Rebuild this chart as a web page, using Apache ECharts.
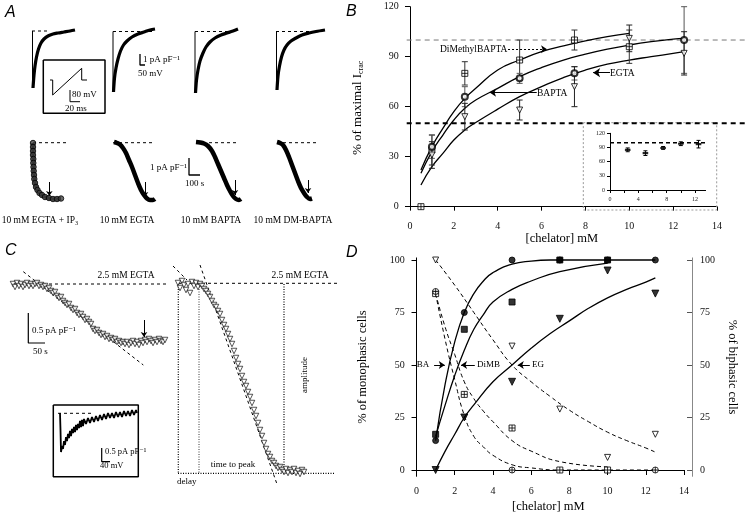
<!DOCTYPE html>
<html><head><meta charset="utf-8">
<script src="https://cdn.jsdelivr.net/npm/echarts@6/dist/echarts.min.js"></script>
<style>html,body{margin:0;padding:0;background:#fff}#c{width:750px;height:516px}</style>
</head><body><div id="c"></div><script>
const SERIF = '"Liberation Serif","DejaVu Serif",serif';
const SANS = '"Liberation Sans","DejaVu Sans",sans-serif';

// ---------- Panel B : % of maximal Icrac vs [chelator] ----------
const bTicksX = [0,2,4,6,8,10,12,14];
const bTicksY = [0,30,60,90,120];
const bFitXDM = [0.5,1,1.5,2,2.5,3,4,5,6,7,8,9,10];
const bFitDM  = [22,36,47,57,65,71,82,88,93,96.5,99.5,102,104];
const bFitX   = [0.5,1,1.5,2,2.5,3,4,5,6,7,8,9,10,11,12,12.5];
const bFitBAPTA = [20,33,43,52,59,64,71,78,83.5,88,91.5,94.5,97,99,100.5,101];
const bFitEGTA  = [13,24,32,40,46,50.5,58.5,66,72,77.5,82,85.5,88,90,92,93];
const bDMx = [0.5,1,2.5,5,7.5,10];
const bDMy = [0,34,80,88,100,96];
const bDMe = [0,9,7,12,6,10];
const bBAx = [1,2.5,5,7.5,12.5];
const bBAy = [36,66,77,80,100];
const bBAe = [7,6,3,4,20];
const bEGx = [1,2.5,5,7.5,10,12.5];
const bEGy = [31,54,58,72,101,92];
const bEGe = [8,8,6,12,8,13];
// inset
const inTicksX = [0,4,8,12];
const inMinorX = [0,2,4,6,8,10,12];
const inTicksY = [0,30,60,90,120];
const inX = [2.5,5,7.5,10,12.5];
const inY = [85,78,89,98,97];
const inE = [4,5,3,4,8];

// ---------- Panel D : % monophasic / biphasic cells ----------
const dTicksX = [0,2,4,6,8,10,12,14];
const dTicksY = [0,25,50,75,100];
const dX = [1,2.5,5,7.5,10,12.5];
const dMonoBA = [14,75,100,100,100,100];
const dMonoDMx = [1,2.5,5,7.5,10];
const dMonoDM = [17,67,80,100,100];
const dMonoEG = [0,25,42,72,95,84];
const dBiEGx = [1,5,7.5,10,12.5];
const dBiEG = [100,59,29,6,17];
const dBiDMx = [1,2.5,5,7.5,10];
const dBiDM = [84,36,20,0,0];
const dBiBAx = [1,5,12.5];
const dBiBA = [85,0,0];
const dFitBAx = [1,1.5,2,2.5,3,3.5,4,5,6,7,8,10,12.5];
const dFitBA  = [14,41,61,75,84,90,94,98,99.5,100,100,100,100];
const dFitDMx = [1,1.5,2,2.5,3,3.5,4,5,6,7.5,10];
const dFitDM  = [16,31,45,57,67,74,80,86,90,94.5,98.5];
const dFitEGx = [1,1.5,2,2.5,3,4,5,6,7,8,9,10,11,12,12.5];
const dFitEG  = [0,9,17,25,31,42,50,58,65,71,77,82,86,89.5,91.5];
const dBiFitEGx = [1,2,3,4,5,6,7,8,9,10,11,12,12.5];
const dBiFitEG  = [100,88,75,62,50,42,35,28.5,23,18,14,10.5,8.5];
const dBiFitDMx = [1,1.5,2,2.5,3,3.5,4,5,6,7.5,10];
const dBiFitDM  = [84,68,55,42,34,28,23,14,9,4,1.5];
const dBiFitBAx = [1,1.5,2,2.5,3,3.5,4,5,6,7.5,10,12.5];
const dBiFitBA  = [84,62,43,26,16,11,7,2.5,1,0,0,0];

// ---------- Panels A and C : traces (panel units) ----------
const aTop1 = [[33,88],[34,75],[35,66],[36.5,57],[38.5,49],[41,43],[44,39],[48,36],[53,34],[58,33],[64,32],[70,31],[75,30]];
const aTop2 = [[113.5,92],[114.5,78],[116,68],[118,59],[120.5,51],[123.5,45],[127,41],[132,37],[138,34],[144,32],[150,30],[155,29]];
const aTop3 = [[195.5,93],[196.5,80],[198,70],[200,61],[203,53],[206,47],[210,42],[215,38],[221,35],[227,33],[233,31],[238,29]];
const aTop4 = [[277,90],[278,76],[279.5,66],[281.5,57],[284,50],[287,45],[291,41],[296,38],[302,35],[309,33],[316,31.5],[325,30]];
const aSteps = [[[32.5,31],[32.5,88]],[[113,31.5],[113,92]],[[195,31.5],[195,93]],[[276.5,31.5],[276.5,90]]];
const aTopBase = [[[32,31],[50,31]],[[113,31.5],[153,31.5]],[[195,31.5],[237,31.5]],[[276,31.5],[320,31.5]]];
const aInsetBox = [[43.3,60],[105,60],[105,113.3],[43.3,113.3],[43.3,60]];
const aInsetWave = [[50,80],[52.7,80],[52.7,95],[81.7,68.3],[81.7,80],[87,80]];
const aInsetBar = [[70,90],[70,101.7],[80,101.7]];
const aTopBar = [[140,54],[140,65],[145,65]];
const aBot1 = [[33,143],[33,147],[33,151],[33,155],[33.3,159],[33.3,163],[33.5,167],[33.7,171],[34,175],[34.3,179],[35,183],[36,187],[37.5,190],[39.5,193],[42,195],[45,197],[49,198],[53,199],[57,199],[61,198.5]];
const aBot2 = [[114,142],[117,143],[120,144.5],[123,148],[126,153],[129,160],[132,167],[135,175],[138,183],[141,190],[144,195],[147,198.5],[150,200],[153,200],[155,199]];
const aBot3 = [[196,142],[200,142.5],[204,143.5],[208,146],[212,151],[215,157],[218,164],[221,171],[224,178],[227,185],[230,191],[233,196],[236,199],[239,200],[241,199]];
const aBot4 = [[277,142],[280,143],[283,145],[286,150],[289,157],[292,165],[295,173],[298,181],[301,188],[304,193],[307,197],[310,199],[312,198.5]];
const aBotBase = [[[33,142.7],[68,142.7]],[[113,142.7],[155,142.7]],[[197,142.7],[237,142.7]],[[277,142.7],[318,142.7]]];
const aBotBar = [[189,158],[189,175],[200,175]];
const aArrows = [[49.3,182,49.3,196],[145,182,145,197],[235,180,235,195],[308,180,308,193]];

const cLeft = [[13,284],[15,287],[17,283],[19,286],[21,284],[23,287],[25,285],[27,283],[29,286],[31,284],[33,286],[35,284],[37,283],[39,286],[41,285],[43,287],[45,286],[47,289],[49,288],[51,291],[53,293],[55,292],[57,296],[59,298],[61,297],[63,301],[65,303],[67,305],[69,304],[71,308],[73,310],[75,309],[77,313],[79,315],[81,314],[83,317],[85,320],[87,319],[89,322],[91,324],[93,329],[95,331],[97,330],[99,333],[101,335],[103,334],[105,337],[107,336],[109,339],[111,338],[113,340],[115,339],[117,342],[119,341],[121,343],[123,342],[125,344],[127,342],[129,345],[131,343],[133,341],[135,344],[137,342],[139,345],[141,341],[143,343],[145,340],[147,342],[149,339],[151,341],[153,343],[155,340],[157,342],[159,339],[161,341],[163,342],[165,340]];
const cRight = [[178,283],[180,288],[182,281],[184,285],[186,290],[188,284],[190,293],[192,282],[194,286],[196,283],[198,287],[200,284],[202,286],[204,289],[206,291],[208,294],[210,297],[212,301],[214,305],[216,307],[218,311],[220,314],[222,320],[224,325],[226,329],[228,334],[230,339],[232,344],[234,351],[236,358],[238,364],[240,369],[242,376],[244,382],[246,386],[248,392],[250,397],[252,403],[254,410],[256,416],[258,423],[260,430],[262,436],[264,443],[266,449],[268,454],[270,457],[272,461],[274,463],[276,466],[278,468],[280,467],[282,470],[284,472],[286,469],[288,473],[290,470],[292,472],[294,469],[296,473],[298,471],[300,474],[302,470],[304,472]];
const cInset = [[60,413],[60.5,430],[61,452],[62,446],[63,449],[64,441],[65,445],[66,437],[67,441],[68,434],[69,438],[70,431],[71,436],[72,429],[73,433],[74,427],[75,432],[76,425],[77,430],[78,424],[79,428],[80,421],[81,427],[82,420],[83,426],[84,419],[86,424],[88,418],[90,423],[92,417],[94,422],[96,416],[98,421],[100,415],[102,420],[104,414],[106,419],[108,413],[110,418],[112,413],[114,418],[116,412],[118,417],[120,412],[122,417],[124,411],[126,416],[128,411],[130,416],[132,410],[134,415],[136,410],[137,413]];
const cDashed = [[[13,284],[167,284]],[[178,283.3],[337,283.3]],[[58,413.3],[92,413.3]],[[23.3,271.7],[143.3,365]],[[200,265],[276.7,483.3]],[[173,266],[187,280]]];
const cDotted = [[[178,473.3],[335,473.3]],[[178.3,284],[178.3,473.3]],[[284,284],[284,473.3]]];
const cDottedThin = [[[199,284],[199,473.3]]];
const cBars = [[[28.3,313],[28.3,343],[45,343]],[[101.7,448],[101.7,461.7],[110,461.7]]];
const cInsetBox = [[53.3,405],[138.3,405],[138.3,476.7],[53.3,476.7],[53.3,405]];
const cArrows = [[144,320,144,337]];

const zip = (xs, ys) => xs.map((x,i)=>[x, ys[i]]);
const zip3 = (xs, ys, es) => xs.map((x,i)=>[x, ys[i], es[i]]);

const SQX = 'path://M0,0L10,0L10,10L0,10Z M5,0L5,10 M0,5L10,5';
const CIRX = 'path://M5,0A5,5 0 1 1 5,10A5,5 0 1 1 5,0Z M5,0L5,10 M0,5L10,5';
const TRID = 'path://M0,0L10,0L5,9Z';

function line(xi, yi, data, width, type, extra) {
  return Object.assign({type:'line', xAxisIndex:xi, yAxisIndex:yi, data:data, symbol:'none', silent:true,
    lineStyle:{color:'#000', width:width||1, type:type||'solid'}, z:3}, extra||{});
}
function scatter(xi, yi, data, symbol, size, fill, extra) {
  return Object.assign({type:'scatter', xAxisIndex:xi, yAxisIndex:yi, data:data, symbol:symbol, symbolSize:size, silent:true,
    itemStyle:{color:fill, borderColor:'#000', borderWidth:1}, z:5}, extra||{});
}
function arrows(xi, yi, list, type, size) {
  return {type:'line', xAxisIndex:xi, yAxisIndex:yi, data:[], silent:true,
    markLine:{silent:true, symbol:['none','arrow'], symbolSize:size||6, label:{show:false}, animation:false,
      lineStyle:{color:'#000', width:1, type:type||'solid'},
      data:list.map(a=>[{coord:[a[0],a[1]]},{coord:[a[2],a[3]]}])}};
}
function errbars(xi, yi, data, color, cap) {
  return {type:'custom', xAxisIndex:xi, yAxisIndex:yi, data:data, silent:true, clip:false, z:4,
    encode:{x:0, y:1},
    renderItem:function(params, api){
      const x=api.value(0), y=api.value(1), e=api.value(2);
      if(!e) return null;
      const t=api.coord([x,y+e]), b=api.coord([x,y-e]);
      const st={stroke:color||'#000', lineWidth:1};
      return {type:'group', children:[
        {type:'line', shape:{x1:t[0],y1:t[1],x2:b[0],y2:b[1]}, style:st},
        {type:'line', shape:{x1:t[0]-cap,y1:t[1],x2:t[0]+cap,y2:t[1]}, style:st},
        {type:'line', shape:{x1:b[0]-cap,y1:b[1],x2:b[0]+cap,y2:b[1]}, style:st}
      ]};
    }};
}

const axisFont = {fontFamily:SERIF, fontSize:10, color:'#111'};
const blackLine = {show:true, lineStyle:{color:'#000', width:1}};

const series = [];
// ---- canvas (A, C) : grid 0
aTopBase.forEach(s=>series.push(line(0,0,s,1,[3,3])));
aSteps.forEach(s=>series.push(line(0,0,s,1)));
[aTop1,aTop2,aTop3,aTop4].forEach(s=>series.push(line(0,0,s,3.2,'solid',{smooth:0.3})));
series.push(line(0,0,aInsetBox,1.5));
series.push(line(0,0,aInsetWave,1));
series.push(line(0,0,aInsetBar,1));
series.push(line(0,0,aTopBar,1.3));
aBotBase.forEach(s=>series.push(line(0,0,s,1,[3,3])));
series.push(line(0,0,aBot1,3.5,'solid',{smooth:0.3}));
series.push(scatter(0,0,aBot1,'circle',5.5,'#333',{itemStyle:{color:'#444', borderColor:'#000', borderWidth:1}}));
[aBot2,aBot3,aBot4].forEach(s=>series.push(line(0,0,s,4.5,'solid',{smooth:0.3})));
series.push(line(0,0,aBotBar,1.3));
series.push(arrows(0,0,aArrows,'solid',5));
cDashed.forEach(s=>series.push(line(0,0,s,1,[3,3])));
cDotted.forEach(s=>series.push(line(0,0,s,1.2,[1,1.5])));
cDottedThin.forEach(s=>series.push(line(0,0,s,0.8,[1,1.5])));
cBars.forEach(s=>series.push(line(0,0,s,1.2)));
series.push(line(0,0,cInsetBox,1.5));
series.push(line(0,0,cInset,1.8));
series.push(scatter(0,0,cLeft,TRID,5.5,'#fff',{itemStyle:{color:'#fff', borderColor:'#111', borderWidth:0.9}}));
series.push(scatter(0,0,cRight,TRID,5.5,'#fff',{itemStyle:{color:'#fff', borderColor:'#111', borderWidth:0.9}}));
series.push(arrows(0,0,cArrows,'solid',5));

// ---- Panel B : grid 1 (main), 2 (inset), 3 (overlay)
series.push(line(3,3,[[0,100],[1,100]],1,[5,4],{lineStyle:{color:'#777', width:1, type:[5,4]}}));
series.push(line(3,3,[[0,50],[1,50]],2,[5,4]));
series.push(line(1,1,zip(bFitXDM,bFitDM),1.3,'solid',{smooth:true}));
series.push(line(1,1,zip(bFitX,bFitBAPTA),1.3,'solid',{smooth:true}));
series.push(line(1,1,zip(bFitX,bFitEGTA),1.3,'solid',{smooth:true}));
series.push(errbars(1,1,zip3(bDMx,bDMy,bDMe),'#333',3));
series.push(errbars(1,1,zip3(bBAx,bBAy,bBAe),'#555',3));
series.push(errbars(1,1,zip3(bEGx,bEGy,bEGe),'#222',3));
series.push(scatter(1,1,zip(bDMx,bDMy),SQX,6,'#fff'));
series.push(scatter(1,1,zip(bBAx,bBAy),'emptyCircle',6,'#000'));
series.push(scatter(1,1,zip(bEGx,bEGy),TRID,6,'#fff'));
series.push(arrows(1,1,[[4.47,94.4,6.25,94.4]],[2,2],6));
series.push(arrows(1,1,[[5.78,68.4,3.65,68.4]],'solid',6));
series.push(arrows(1,1,[[9.12,80.4,8.35,80.4]],'solid',7));
series.push(line(2,2,[[0,100],[13.5,100]],1.5,[4,3]));
series.push(errbars(2,2,zip3(inX,inY,inE),'#000',2));
series.push(scatter(2,2,zip(inX,inY),'rect',[4,1.5],'#000'));

// ---- Panel D : grid 4
series.push(line(4,4,zip(dFitBAx,dFitBA),1.3,'solid',{smooth:true}));
series.push(line(4,4,zip(dFitDMx,dFitDM),1.3,'solid',{smooth:true}));
series.push(line(4,4,zip(dFitEGx,dFitEG),1.3,'solid',{smooth:true}));
series.push(line(4,5,zip(dBiFitEGx,dBiFitEG),1,[4,3],{smooth:true}));
series.push(line(4,5,zip(dBiFitDMx,dBiFitDM),1,[4,3],{smooth:true}));
series.push(line(4,5,zip(dBiFitBAx,dBiFitBA),1,[4,3],{smooth:true}));
series.push(scatter(4,4,zip(dX,dMonoBA),'circle',6,'#000'));
series.push(scatter(4,4,zip(dMonoDMx,dMonoDM),'rect',6,'#000'));
series.push(scatter(4,4,zip(dX,dMonoEG),TRID,7,'#000'));
series.push(scatter(4,5,zip(dBiEGx,dBiEG),TRID,6,'#fff'));
series.push(scatter(4,5,zip(dBiDMx,dBiDM),SQX,6,'#fff'));
series.push(scatter(4,5,zip(dBiBAx,dBiBA),CIRX,6,'#fff'));
series.push(arrows(4,4,[[0.92,50,1.48,50],[3.05,50,2.33,50],[5.93,50,5.3,50]],'solid',6));

function txt(x, y, s, size, align, extra) {
  return Object.assign({type:'text', x:x, y:y, silent:true, z:10,
    style:{text:s, fontFamily:SERIF, fontSize:size||9, fill:'#000', align:align||'left', verticalAlign:'middle'}}, extra||{});
}
function letter(x, y, s) {
  return {type:'text', x:x, y:y, silent:true, z:10,
    style:{text:s, fontFamily:SANS, fontSize:16, fontStyle:'italic', fill:'#000', align:'left', verticalAlign:'middle'}};
}
const graphics = [
  letter(5,13,'A'), letter(346,12,'B'), letter(5,251,'C'), letter(346,253,'D'),
  txt(143,60,'1 pA pF⁻¹',9), txt(138,74,'50 mV',9), txt(72,95,'80 mV',9), txt(65,108.5,'20 ms',9),
  txt(187,168,'1 pA pF⁻¹',9,'right'), txt(185,184,'100 s',9),
  txt(40,220,'10 mM EGTA + IP₃',9.5,'center'), txt(127,220,'10 mM EGTA',9.5,'center'),
  txt(211,220,'10 mM BAPTA',9.5,'center'), txt(293,220,'10 mM DM-BAPTA',9.5,'center'),
  txt(126,275,'2.5 mM EGTA',9.5,'center'), txt(300,275,'2.5 mM EGTA',9.5,'center'),
  txt(32,331,'0.5 pA pF⁻¹',9), txt(33,352,'50 s',9),
  txt(105,452,'0.5 pA pF⁻¹',8.5), txt(100,466,'40 mV',8.5),
  txt(177,482,'delay',9), txt(233,465,'time to peak',9,'center'),
  txt(305,375,'amplitude',9,'center',{rotation:Math.PI/2}),
  txt(440,49.3,'DiMethylBAPTA',9.5), txt(537,93,'BAPTA',9.5), txt(610,73,'EGTA',9.5),
  txt(423,365,'BA',9,'center'), txt(477,365,'DiMB',9), txt(532,365,'EG',9),
  {type:'rect', silent:true, z:1, shape:{x:583.3,y:122.7,width:133.4,height:87.3},
    style:{fill:'none', stroke:'#999', lineWidth:1, lineDash:[2,2]}}
];

const hidden = {show:false};
const option = {
  animation:false,
  backgroundColor:'#fff',
  grid:[
    {left:0, top:0, width:340, height:516},
    {left:406.7, top:6.7, width:310.3, height:202.3},
    {left:610, top:133.3, width:95.6, height:56.7},
    {left:406.7, top:6.7, width:338, height:202.3},
    {left:412.7, top:257.9, width:271.3, height:218.4}
  ],
  xAxis:[
    {gridIndex:0, type:'value', min:0, max:340, show:false},
    {gridIndex:1, type:'value', min:-0.15, max:14, splitLine:hidden,
      axisLine:blackLine, axisTick:{show:true, length:4, customValues:bTicksX, lineStyle:{color:'#000'}},
      axisLabel:Object.assign({customValues:bTicksX, margin:12}, axisFont),
      name:'[chelator] mM', nameLocation:'middle', nameGap:22, nameTextStyle:{fontFamily:SERIF, fontSize:12.5, color:'#000'}},
    {gridIndex:2, type:'value', min:0, max:13.5, splitLine:hidden,
      axisLine:blackLine, axisTick:{show:true, length:3, customValues:inMinorX, lineStyle:{color:'#000'}},
      axisLabel:{customValues:inTicksX, margin:6, fontFamily:SERIF, fontSize:6, color:'#222'}},
    {gridIndex:3, type:'value', min:0, max:1, show:false},
    {gridIndex:4, type:'value', min:-0.2, max:14, splitLine:hidden,
      axisLine:blackLine, axisTick:{show:true, length:5, customValues:dTicksX, lineStyle:{color:'#000'}},
      axisLabel:Object.assign({customValues:dTicksX, margin:10}, axisFont),
      name:'[chelator] mM', nameLocation:'middle', nameGap:24, nameTextStyle:{fontFamily:SERIF, fontSize:12.5, color:'#000'}}
  ],
  yAxis:[
    {gridIndex:0, type:'value', min:0, max:516, inverse:true, show:false},
    {gridIndex:1, type:'value', min:-1.4, max:120, splitLine:hidden,
      axisLine:blackLine, axisTick:{show:true, length:5, customValues:bTicksY, lineStyle:{color:'#000'}},
      axisLabel:Object.assign({customValues:bTicksY, margin:8}, axisFont),
      name:'% of maximal I{s|crac}', nameLocation:'middle', nameGap:42, nameRotate:90,
      nameTextStyle:{fontFamily:SERIF, fontSize:13, color:'#000', rich:{s:{fontFamily:SERIF, fontSize:8, color:'#000', padding:[7,0,0,0]}}}},
    {gridIndex:2, type:'value', min:0, max:120, splitLine:hidden,
      axisLine:blackLine, axisTick:{show:true, length:3, customValues:inTicksY, lineStyle:{color:'#000'}},
      axisLabel:{customValues:inTicksY, margin:5, fontFamily:SERIF, fontSize:6, color:'#222'}},
    {gridIndex:3, type:'value', min:-1.4, max:120, show:false},
    {gridIndex:4, type:'value', min:-3, max:101, splitLine:hidden,
      axisLine:blackLine, axisTick:{show:true, length:5, customValues:dTicksY, lineStyle:{color:'#000'}},
      axisLabel:Object.assign({customValues:dTicksY, margin:8}, axisFont),
      name:'% of monophasic cells', nameLocation:'middle', nameGap:43, nameRotate:90,
      nameTextStyle:{fontFamily:SERIF, fontSize:12.5, color:'#000'}},
    {gridIndex:4, type:'value', min:-3, max:101, position:'right', offset:8, splitLine:hidden,
      axisLine:{show:true, lineStyle:{color:'#888', width:1}},
      axisTick:{show:true, inside:true, length:5, customValues:dTicksY, lineStyle:{color:'#555'}},
      axisLabel:Object.assign({customValues:dTicksY, margin:8}, axisFont),
      name:'% of biphasic cells', nameLocation:'middle', nameGap:34, nameRotate:-90,
      nameTextStyle:{fontFamily:SERIF, fontSize:12.5, color:'#000'}}
  ],
  series:series,
  graphic:{elements:graphics}
};
const chart = echarts.init(document.getElementById('c'), null, {renderer:'canvas'});
chart.setOption(option);
</script></body></html>
